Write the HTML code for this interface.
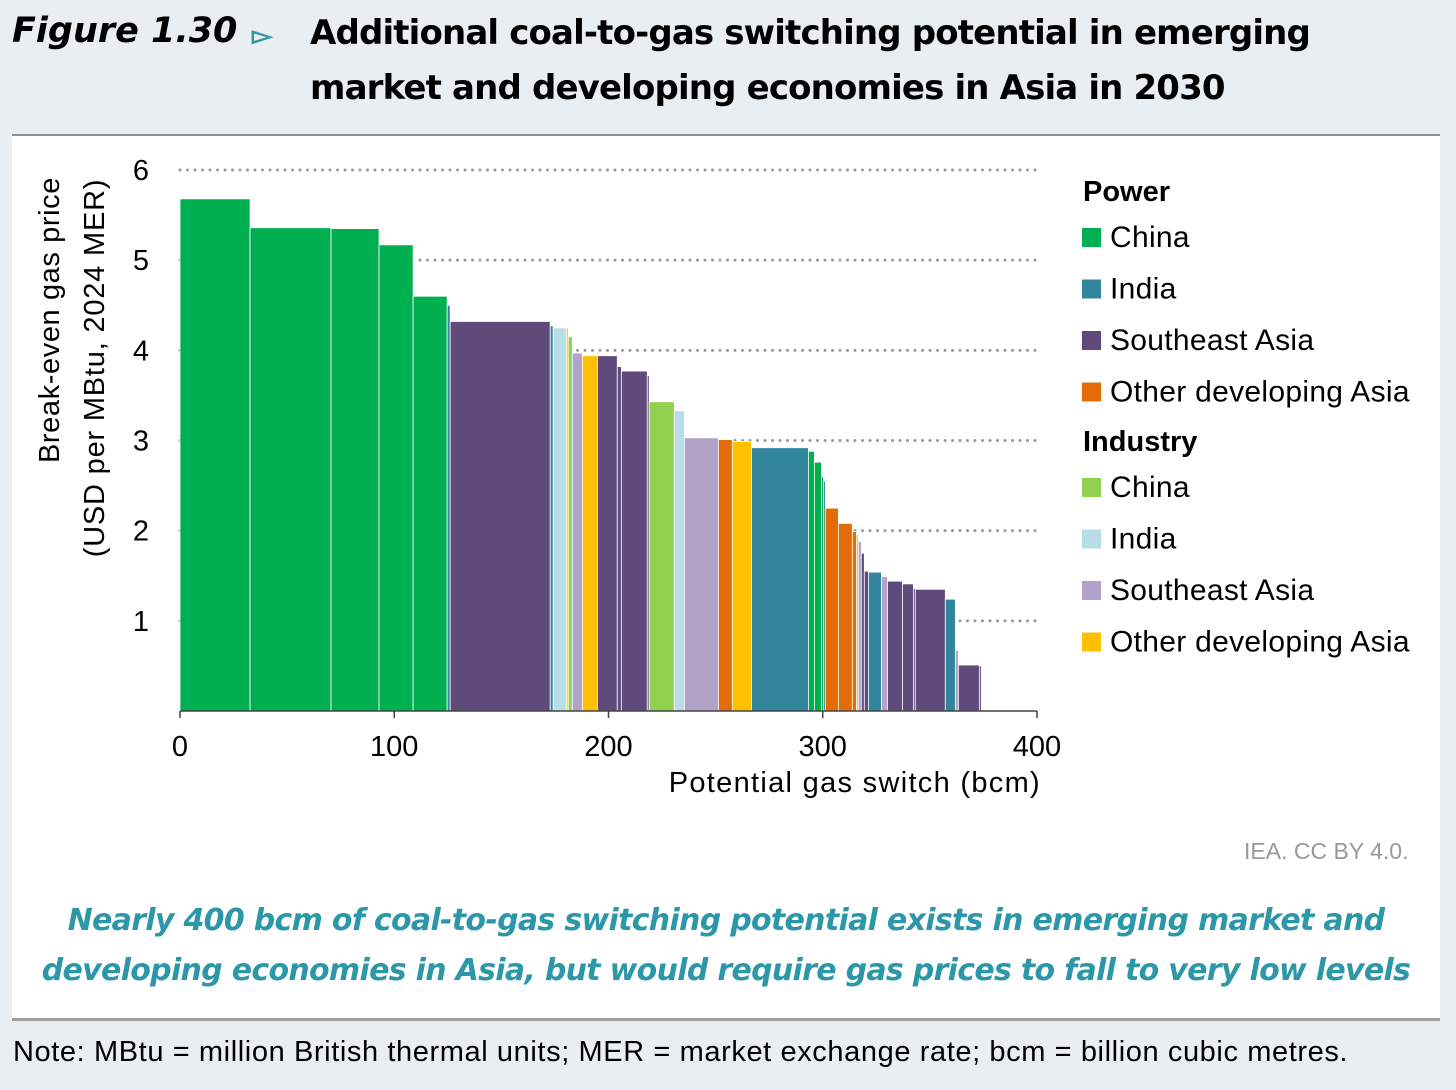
<!DOCTYPE html>
<html><head><meta charset="utf-8">
<style>
html,body{margin:0;padding:0}
body{width:1456px;height:1090px;background:#e9eef3;position:relative;overflow:hidden;font-family:"Liberation Sans",sans-serif}
.t{position:absolute;font-weight:bold;color:#000}
</style></head>
<body>
<div class="t" style="left:12px;top:11px;font-size:35px;font-style:italic;font-family:'DejaVu Sans','Liberation Sans',sans-serif;font-weight:900">Figure 1.30</div>
<div style="position:absolute;left:252px;top:20px;color:#2b97a8;font-size:26px;font-weight:bold">▻</div>
<div class="t" style="left:310px;top:6px;font-size:34px;line-height:55px;font-family:'DejaVu Sans','Liberation Sans',sans-serif;font-weight:bold;letter-spacing:-0.85px">Additional coal-to-gas switching potential in emerging<br>market and developing economies in Asia in 2030</div>
<div style="position:absolute;left:12px;top:134px;width:1428px;height:882px;background:#fff;border-top:2px solid #8f8f8f;border-bottom:3px solid #a0a0a0"></div>
<svg id="chart" width="1456" height="1090" style="position:absolute;left:0;top:0" xmlns="http://www.w3.org/2000/svg"></svg>
<div style="position:absolute;left:1244px;top:838px;font-size:23px;color:#999">IEA. CC BY 4.0.</div>
<div style="position:absolute;left:12px;width:1428px;top:896px;text-align:center;font-size:30px;line-height:50px;color:#2b97a8;font-style:italic;font-weight:bold;font-family:'DejaVu Sans','Liberation Sans',sans-serif;letter-spacing:-0.7px">Nearly 400 bcm of coal-to-gas switching potential exists in emerging market and<br>developing economies in Asia, but would require gas prices to fall to very low levels</div>
<div style="position:absolute;left:13px;top:1036px;font-size:29px;letter-spacing:0.6px;color:#000">Note: MBtu = million British thermal units; MER = market exchange rate; bcm = billion cubic metres.</div>
<script>
const widths=[32.7,37.8,22.4,15.9,15.9,1.4,46.7,1.4,6.1,0.9,1.9,4.7,7.0,9.3,1.9,12.1,0.9,11.7,4.7,15.9,6.5,8.9,26.6,2.8,3.3,0.9,0.9,6.1,6.5,1.9,0.9,1.4,1.4,1.9,6.1,2.8,7.0,5.1,0.9,14.0,4.7,1.4,9.8,0.9];
const prices=[5.68,5.36,5.35,5.17,4.6,4.5,4.32,4.27,4.25,4.25,4.15,3.97,3.94,3.94,3.82,3.77,3.72,3.43,3.33,3.03,3.01,2.99,2.92,2.88,2.76,2.6,2.55,2.25,2.08,1.99,1.96,1.88,1.75,1.55,1.54,1.49,1.44,1.41,1.36,1.35,1.24,0.67,0.51,0.5];
const groups=["pc","pc","pc","pc","pc","pi","ps","pi","ii","io","ic","is","io","ps","ps","ps","ps","ic","ii","is","po","io","pi","pc","pc","pc","pi","po","po","po","io","is","ps","ps","pi","is","ps","ps","ps","ps","pi","is","ps","ps"];
const xTicks=[0,100,200,300,400];
const yTicks=[1,2,3,4,5,6];
const legendLabels=["China","India","Southeast Asia","Other developing Asia"];
const colors={pc:"#00b050",pi:"#31859c",ps:"#604a7b",po:"#e36c09",ic:"#92d050",ii:"#b7dee8",is:"#b2a2c7",io:"#ffc000"};
const NS="http://www.w3.org/2000/svg";
const svg=document.getElementById('chart');
const X0=180,X1=1037,Y0=711,YT=170;
const xs=v=>X0+v*(X1-X0)/400;
const ys=v=>Y0-v*(Y0-YT)/6;
function mk(t,a){const e=document.createElementNS(NS,t);for(const k in a)e.setAttribute(k,a[k]);svg.appendChild(e);return e;}
yTicks.forEach(v=>{
  const g=mk('line',{x1:X0,x2:X1,y1:ys(v),y2:ys(v),stroke:'#999','stroke-width':3,'stroke-dasharray':'0 7.5','stroke-linecap':'round'});
  
  
  const t=mk('text',{x:149,y:ys(v)+10,'font-size':29,'text-anchor':'end','font-family':'Liberation Sans, sans-serif'});
  t.textContent=v;
  
  
});
let cum=0;
widths.forEach((w,i)=>{
  const r=mk('rect',{x:xs(cum),y:ys(prices[i]),width:Math.max(xs(cum+w)-xs(cum),0.5),height:Y0-ys(prices[i]),fill:colors[groups[i]],stroke:'#fff','stroke-width':0.8});
  
  
  cum+=w;
});
const ax=mk('line',{x1:X0,x2:X1,y1:Y0,y2:Y0,stroke:'#444','stroke-width':1.5});


xTicks.forEach(v=>{
  const l=mk('line',{x1:xs(v),x2:xs(v),y1:Y0,y2:Y0+7,stroke:'#444','stroke-width':1.5});
  
  
  const t=mk('text',{x:xs(v),y:756,'font-size':29,'text-anchor':'middle','font-family':'Liberation Sans, sans-serif'});
  t.textContent=v;
  
  
});
const xt=mk('text',{x:1041,y:792,'font-size':29,'text-anchor':'end','font-family':'Liberation Sans, sans-serif','letter-spacing':'1.3'});
xt.textContent='Potential gas switch (bcm)';


const yt1=mk('text',{x:0,y:0,'font-size':29,'text-anchor':'middle','font-family':'Liberation Sans, sans-serif','letter-spacing':'0.6',transform:'translate(59,320) rotate(-90)'});
yt1.textContent='Break-even gas price';


const yt2=mk('text',{x:0,y:0,'font-size':29,'text-anchor':'middle','font-family':'Liberation Sans, sans-serif','letter-spacing':'0.8',transform:'translate(104,368) rotate(-90)'});
yt2.textContent='(USD per MBtu, 2024 MER)';


const sections=[["Power",["pc","pi","ps","po"],201],["Industry",["ic","ii","is","io"],451]];
sections.forEach(s=>{
  const h=mk('text',{x:1083,y:s[2],'font-size':29,'font-weight':'bold','font-family':'Liberation Sans, sans-serif'});
  h.textContent=s[0];
  
  
  s[1].forEach((k,j)=>{
    const y=s[2]+46+j*51.5;
    const r=mk('rect',{x:1082,y:y-19,width:19,height:19,fill:colors[k]});
    
    
    const t=mk('text',{x:1110,y:y,'font-size':30,'font-family':'Liberation Sans, sans-serif','letter-spacing':'0.3'});
    t.textContent=legendLabels[j];
    
    
  });
});
</script>
</body></html>
